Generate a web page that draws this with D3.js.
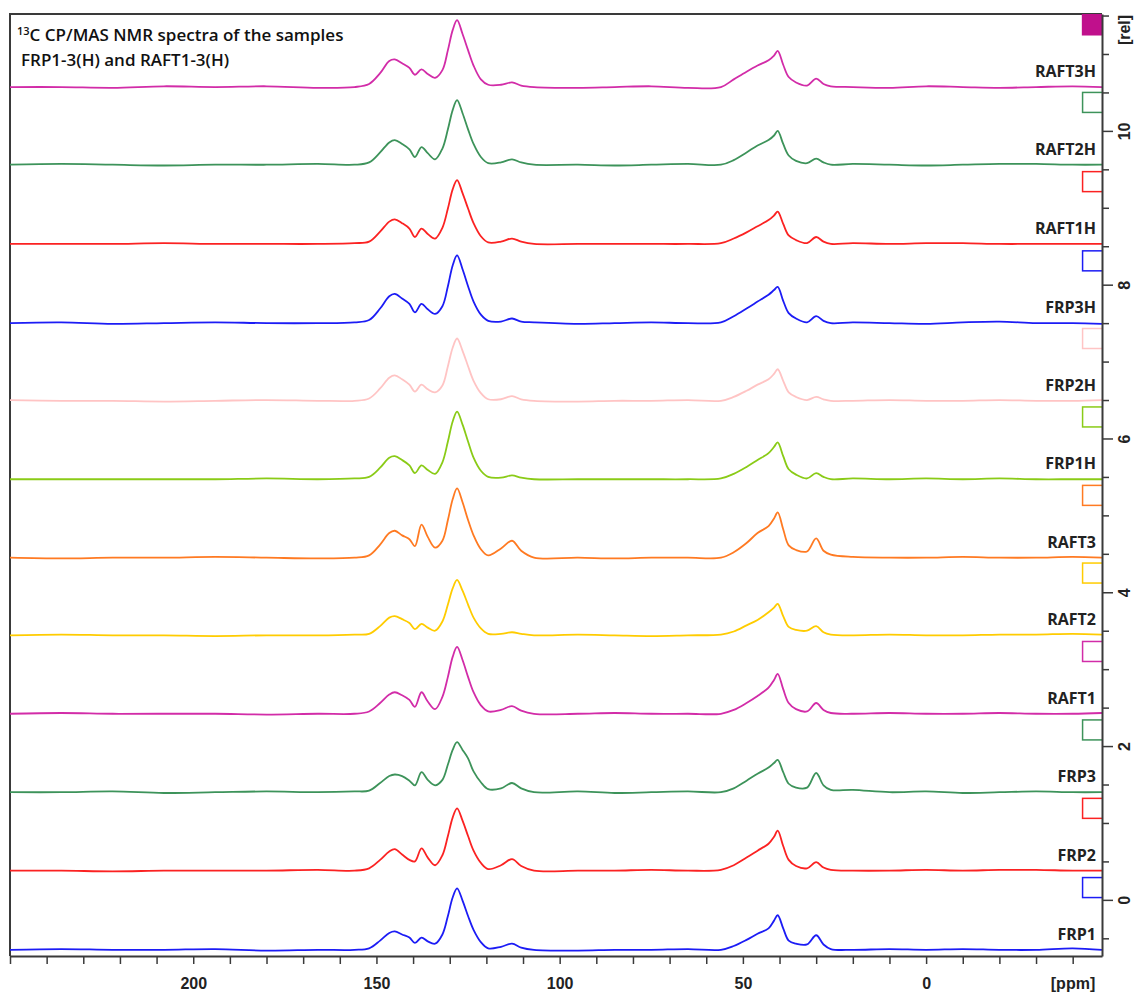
<!DOCTYPE html>
<html>
<head>
<meta charset="utf-8">
<script src="https://cdnjs.cloudflare.com/ajax/libs/d3/7.8.5/d3.min.js"></script>
<style>
body { margin: 0; background: #fff; }
svg { display: block; }
</style>
</head>
<body>
<script>
// chemical shift grid shared by all spectra (ppm, descending)
var ppm = [250, 236, 222, 208, 194, 180, 166, 156, 152, 149, 146.5, 145, 143, 141, 139.5, 137.7, 136, 134, 132, 130.5, 129.2, 128, 126.5, 125, 123.5, 121.5, 119.5, 116, 113, 110.5, 107, 95, 85, 75, 65, 56, 52.5, 49, 46, 43, 41.5, 40.5, 39, 37.5, 35.5, 32.5, 30, 28, 26, 20, 10, 0, -10, -20, -30, -40, -48];

// intensities [rel] above each trace's own baseline
var FRP1 = [0, 0.01, 0, 0, 0.01, -0.01, 0, 0,
  0.02, 0.12, 0.22, 0.24, 0.20, 0.16, 0.09, 0.16, 0.11, 0.08, 0.20, 0.44, 0.68, 0.80, 0.64, 0.44, 0.26, 0.10, 0.02, 0.04, 0.08, 0.03,
  0, -0.01, 0, 0, 0.01, 0,
  0.05, 0.13, 0.21, 0.28, 0.38, 0.45, 0.28, 0.12, 0.08, 0.07, 0.19, 0.07, 0.01,
  0, 0.01, 0, 0.01, 0, 0, 0.02, 0];
var FRP2 = [0, 0, -0.01, 0, 0, 0, 0.01, 0,
  0.03, 0.14, 0.25, 0.28, 0.21, 0.14, 0.12, 0.29, 0.17, 0.07, 0.20, 0.45, 0.69, 0.81, 0.65, 0.45, 0.26, 0.10, 0.02, 0.07, 0.15, 0.06,
  0, 0, 0, 0.01, 0, 0.01,
  0.07, 0.17, 0.26, 0.35, 0.44, 0.52, 0.32, 0.14, 0.06, 0.03, 0.11, 0.04, 0.01,
  0, 0, 0.01, 0, 0.01, 0.01, 0, 0];
var FRP3 = [0, 0, 0.01, -0.01, 0, 0.01, 0, 0.01,
  0.02, 0.12, 0.21, 0.23, 0.21, 0.15, 0.09, 0.26, 0.16, 0.09, 0.16, 0.36, 0.55, 0.65, 0.55, 0.44, 0.27, 0.13, 0.04, 0.05, 0.12, 0.05,
  0, 0.01, -0.01, 0, 0.01, 0,
  0.05, 0.15, 0.24, 0.32, 0.38, 0.42, 0.26, 0.11, 0.06, 0.06, 0.25, 0.09, 0.03,
  0.03, 0, 0.01, -0.01, 0, 0.01, 0, 0];
var RAFT1 = [0, 0.01, 0, 0, 0, -0.01, 0, 0,
  0.03, 0.14, 0.25, 0.28, 0.24, 0.18, 0.09, 0.28, 0.16, 0.06, 0.22, 0.48, 0.74, 0.87, 0.70, 0.48, 0.28, 0.11, 0.03, 0.05, 0.10, 0.04,
  0, 0, 0.01, 0, 0, 0,
  0.05, 0.14, 0.23, 0.34, 0.44, 0.52, 0.32, 0.14, 0.06, 0.03, 0.14, 0.05, 0.01,
  0, 0.01, 0, 0, 0.01, 0, 0, 0.01];
var RAFT2 = [0, 0.01, 0, 0, -0.01, 0, 0, 0.01,
  0.02, 0.12, 0.23, 0.25, 0.21, 0.16, 0.08, 0.15, 0.10, 0.06, 0.18, 0.40, 0.61, 0.72, 0.58, 0.40, 0.23, 0.09, 0.02, 0.02, 0.04, 0.02,
  0, 0.01, 0, -0.01, 0, 0.01,
  0.05, 0.13, 0.20, 0.30, 0.36, 0.41, 0.25, 0.11, 0.07, 0.06, 0.12, 0.04, 0.01,
  0, 0.01, 0, 0, 0.01, 0.01, 0.02, 0.01];
var RAFT3 = [0, -0.01, 0, 0, 0.01, 0, -0.01, 0,
  0.03, 0.17, 0.32, 0.35, 0.29, 0.24, 0.15, 0.43, 0.27, 0.13, 0.22, 0.49, 0.76, 0.90, 0.72, 0.49, 0.29, 0.11, 0.03, 0.12, 0.22, 0.09,
  0, 0, -0.01, 0, 0, 0,
  0.07, 0.19, 0.32, 0.41, 0.51, 0.59, 0.37, 0.16, 0.10, 0.08, 0.25, 0.09, 0.04,
  0.01, 0, 0, 0.01, 0, 0, 0.01, 0];
var FRP1H = [0, 0, 0, 0, 0, 0.01, 0, 0.01,
  0.03, 0.15, 0.28, 0.30, 0.25, 0.18, 0.08, 0.18, 0.12, 0.07, 0.22, 0.49, 0.75, 0.88, 0.71, 0.49, 0.28, 0.11, 0.03, 0.02, 0.05, 0.02,
  0, 0, 0, 0, 0, 0.01,
  0.07, 0.16, 0.25, 0.34, 0.42, 0.48, 0.30, 0.13, 0.06, 0.01, 0.08, 0.03, 0,
  0.01, 0, 0.01, 0, 0.01, 0, 0, 0];
var FRP2H = [0.01, 0, 0, -0.01, 0, 0.01, 0, 0,
  0.03, 0.16, 0.30, 0.33, 0.28, 0.21, 0.12, 0.21, 0.15, 0.11, 0.20, 0.45, 0.69, 0.81, 0.65, 0.45, 0.26, 0.10, 0.02, 0.02, 0.06, 0.02,
  0, -0.01, 0, 0, 0.01, 0,
  0.05, 0.13, 0.21, 0.28, 0.35, 0.41, 0.26, 0.11, 0.05, 0.01, 0.05, 0.02, 0,
  0, 0.01, 0, 0, 0.01, 0, 0, 0.01];
var FRP3H = [0, 0.01, -0.01, 0, 0.01, 0, 0, 0.01,
  0.04, 0.19, 0.35, 0.38, 0.32, 0.25, 0.14, 0.25, 0.18, 0.12, 0.22, 0.48, 0.75, 0.88, 0.70, 0.48, 0.28, 0.11, 0.03, 0.02, 0.06, 0.02,
  0.01, -0.01, 0, 0.01, 0, 0.01,
  0.09, 0.19, 0.28, 0.37, 0.43, 0.47, 0.29, 0.13, 0.06, 0.01, 0.09, 0.03, 0,
  0.01, 0, -0.01, 0.01, 0.02, 0, 0, -0.01];
var RAFT1H = [0, 0, 0, 0.01, 0, 0, 0, 0.01,
  0.03, 0.16, 0.29, 0.32, 0.27, 0.20, 0.09, 0.20, 0.13, 0.07, 0.21, 0.46, 0.71, 0.83, 0.66, 0.46, 0.27, 0.10, 0.02, 0.03, 0.07, 0.03,
  0, 0, 0, 0, 0, 0.01,
  0.07, 0.15, 0.23, 0.31, 0.37, 0.42, 0.26, 0.11, 0.05, 0.01, 0.09, 0.03, 0,
  0.01, 0, 0.01, 0.01, 0, 0, 0, 0];
var RAFT2H = [0, 0.01, 0, -0.01, 0, 0, 0.01, 0,
  0.03, 0.16, 0.29, 0.32, 0.27, 0.20, 0.10, 0.23, 0.15, 0.07, 0.21, 0.46, 0.71, 0.84, 0.67, 0.46, 0.27, 0.10, 0.02, 0.03, 0.07, 0.03,
  0, 0, -0.01, 0, 0.01, 0,
  0.06, 0.16, 0.25, 0.32, 0.38, 0.44, 0.27, 0.12, 0.05, 0.02, 0.08, 0.03, 0,
  0.01, 0, -0.01, 0, 0.01, 0.01, 0, 0];
var RAFT3H = [0, 0, -0.01, 0.01, 0, 0.01, -0.01, 0,
  0.04, 0.18, 0.34, 0.36, 0.31, 0.25, 0.16, 0.23, 0.17, 0.12, 0.22, 0.48, 0.74, 0.87, 0.69, 0.48, 0.28, 0.10, 0.03, 0.03, 0.06, 0.02,
  0, -0.01, 0, 0.01, -0.01, 0,
  0.10, 0.20, 0.28, 0.35, 0.41, 0.47, 0.29, 0.13, 0.06, 0.02, 0.11, 0.04, 0.01,
  0, -0.01, 0.01, 0, -0.01, 0, 0.01, 0];

var names = ['FRP1', 'FRP2', 'FRP3', 'RAFT1', 'RAFT2', 'RAFT3', 'FRP1H', 'FRP2H', 'FRP3H', 'RAFT1H', 'RAFT2H', 'RAFT3H'];
var spectra = [FRP1, FRP2, FRP3, RAFT1, RAFT2, RAFT3, FRP1H, FRP2H, FRP3H, RAFT1H, RAFT2H, RAFT3H];
var offsets = [-0.65, 0.38, 1.40, 2.42, 3.44, 4.45, 5.47, 6.49, 7.50, 8.53, 9.56, 10.57];
var colors = ['#1c1cf5', '#fb2222', '#3d935a', '#d22ca8', '#ffcc00', '#ff7a22', '#8acb17', '#ffc4c4', '#1c1cf5', '#fb2222', '#3d935a', '#d22ca8'];

var xTicks = d3.range(250, -45, -10);
var xLabels = [200, 150, 100, 50, 0];
var yTicks = d3.range(-0.5, 11.51, 0.5);
var yLabels = [0, 2, 4, 6, 8, 10];

var width = 1137;
var height = 992;
var plotLeft = 10, plotRight = 1102, plotTop = 14, plotBottom = 956;

var svg = d3.select('body').append('svg')
  .attr('width', width)
  .attr('height', height);

var x = d3.scaleLinear().domain([250, -48]).range([plotLeft, plotRight]);
var y = d3.scaleLinear().domain([-0.73, 11.52]).range([plotBottom, plotTop]);

svg.append('clipPath').attr('id', 'plot')
  .append('rect')
  .attr('x', plotLeft).attr('y', plotTop)
  .attr('width', plotRight - plotLeft).attr('height', plotBottom - plotTop);

// frame (top and left)
svg.append('path')
  .attr('d', 'M' + plotLeft + ',' + plotBottom + 'V' + plotTop + 'H' + plotRight)
  .attr('fill', 'none')
  .attr('stroke', '#3a3a3a')
  .attr('stroke-width', 2);

var g = svg.append('g').attr('clip-path', 'url(#plot)');

// colour boxes at the right edge
g.selectAll('rect.box').data(spectra).enter().append('rect')
  .attr('class', 'box')
  .attr('x', x(-42.7))
  .attr('y', function(d, i) { return y(offsets[i] + 0.94); })
  .attr('width', x(-48) - x(-42.7) + 1)
  .attr('height', function(d, i) { return y(offsets[i] + 0.68) - y(offsets[i] + 0.94); })
  .attr('fill', function(d, i) { return i === 11 ? '#c0108c' : 'none'; })
  .attr('stroke', function(d, i) { return i === 11 ? '#c0108c' : colors[i]; })
  .attr('stroke-width', 1.5);

g.selectAll('path.spec').data(spectra).enter().append('path')
  .attr('class', 'spec')
  .attr('d', function(d, i) {
    var line = d3.line()
      .x(function(v, j) { return x(ppm[j]); })
      .y(function(v) { return y(v + offsets[i]); })
      .curve(d3.curveCatmullRom.alpha(0.5));
    return line(d);
  })
  .attr('fill', 'none')
  .attr('stroke', function(d, i) { return colors[i]; })
  .attr('stroke-width', 1.8)
  .attr('stroke-linejoin', 'round');

svg.selectAll('text.name').data(names).enter().append('text')
  .attr('class', 'name')
  .attr('x', 1096)
  .attr('y', function(d, i) { return y(offsets[i]) - 10; })
  .attr('text-anchor', 'end')
  .style('font-family', 'Open Sans, sans-serif')
  .style('font-weight', 700)
  .style('font-size', '16px')
  .attr('fill', '#222')
  .text(function(d) { return d; });

// bottom axis
var xAxis = d3.axisBottom(x)
  .tickValues(xTicks)
  .tickSize(8)
  .tickSizeOuter(0)
  .tickFormat(function(d) { return xLabels.indexOf(d) >= 0 ? d : ''; });
var gx = svg.append('g').attr('transform', 'translate(0,' + plotBottom + ')').call(xAxis);
gx.select('.domain').attr('stroke', '#3a3a3a').attr('stroke-width', 2);
gx.selectAll('.tick line').attr('stroke', '#3a3a3a').attr('stroke-width', 1.5);
gx.selectAll('.tick text')
  .attr('y', 33).attr('dy', null)
  .attr('fill', '#222')
  .style('font-family', 'Liberation Sans, Arial, sans-serif')
  .style('font-weight', 700)
  .style('font-size', '16px');
svg.append('text')
  .attr('x', 1073).attr('y', 989)
  .attr('text-anchor', 'middle')
  .attr('fill', '#222')
  .style('font-family', 'Liberation Sans, Arial, sans-serif')
  .style('font-weight', 700)
  .style('font-size', '16px')
  .text('[ppm]');

// right axis
var yAxis = d3.axisRight(y)
  .tickValues(yTicks)
  .tickSize(7)
  .tickSizeOuter(0)
  .tickFormat(function(d) { return yLabels.indexOf(d) >= 0 ? d : ''; });
var gy = svg.append('g').attr('transform', 'translate(' + plotRight + ',0)').call(yAxis);
gy.select('.domain').attr('stroke', '#3a3a3a').attr('stroke-width', 2);
gy.selectAll('.tick line')
  .attr('stroke', '#3a3a3a').attr('stroke-width', 1.5)
  .attr('x2', function(d) { return yLabels.indexOf(d) >= 0 ? 11 : 7; });
gy.selectAll('.tick text')
  .attr('x', 0).attr('dy', '0.35em')
  .attr('text-anchor', 'middle')
  .attr('transform', 'translate(22,0) rotate(-90)')
  .attr('fill', '#222')
  .style('font-family', 'Liberation Sans, Arial, sans-serif')
  .style('font-weight', 700)
  .style('font-size', '16px');
svg.append('text')
  .attr('text-anchor', 'middle')
  .attr('dy', '0.35em')
  .attr('transform', 'translate(' + (plotRight + 22) + ',30) rotate(-90)')
  .attr('fill', '#222')
  .style('font-family', 'Liberation Sans, Arial, sans-serif')
  .style('font-weight', 700)
  .style('font-size', '16px')
  .text('[rel]');

// title
var title = svg.append('text')
  .attr('x', 17).attr('y', 41)
  .attr('fill', '#111')
  .style('font-family', 'Open Sans, sans-serif')
  .style('font-weight', 600)
  .style('font-size', '17px');
title.append('tspan').attr('font-size', '11px').attr('dy', -6).text('13');
title.append('tspan').attr('dy', 6).text('C CP/MAS NMR spectra of the samples');
svg.append('text')
  .attr('x', 21).attr('y', 66)
  .attr('fill', '#111')
  .style('font-family', 'Open Sans, sans-serif')
  .style('font-weight', 600)
  .style('font-size', '17px')
  .text('FRP1-3(H) and RAFT1-3(H)');
</script>
</body>
</html>
